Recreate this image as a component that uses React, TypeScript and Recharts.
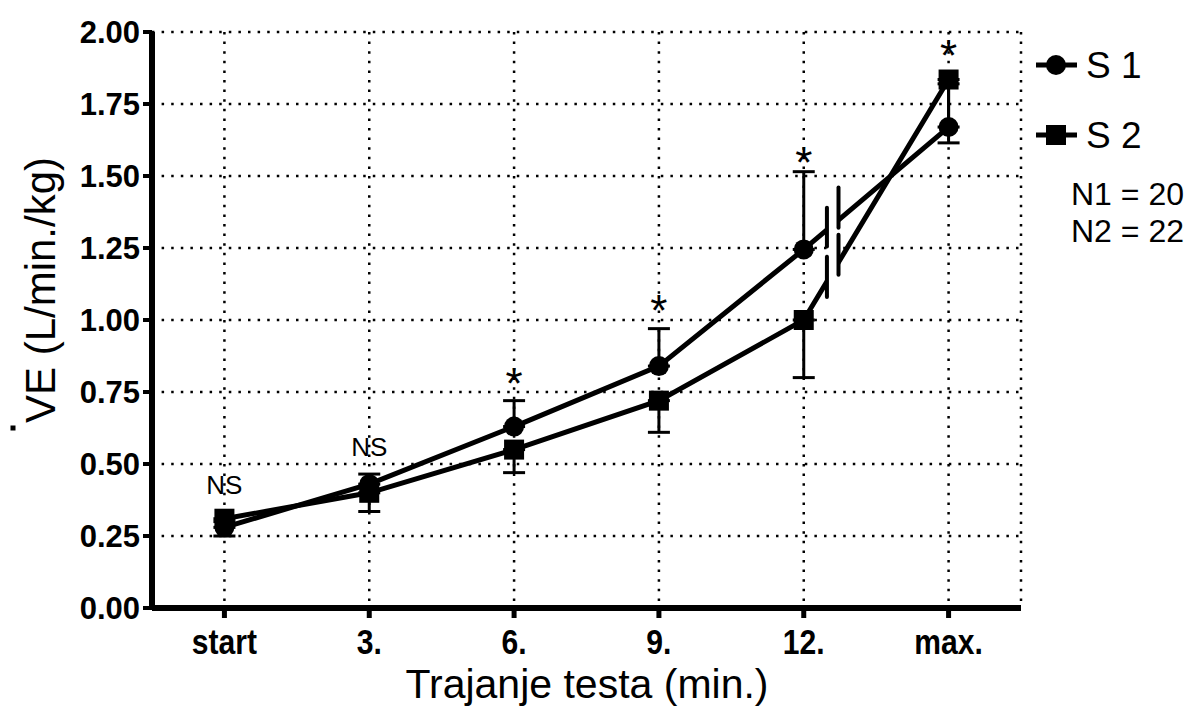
import {
  LineChart,
  Line,
  XAxis,
  YAxis,
  CartesianGrid,
  ErrorBar,
  ReferenceDot,
  ReferenceLine,
  ReferenceArea,
} from "recharts";

const categories = ["start", "3.", "6.", "9.", "12.", "max."];
const s1Values = [0.28, 0.43, 0.63, 0.84, 1.245, 1.67];
const s1ErrUp = [0.02, 0.035, 0.09, 0.13, 0.27, 0.15];
const s2Values = [0.31, 0.4, 0.55, 0.72, 1.0, 1.835];
const s2ErrDown = [0.06, 0.065, 0.08, 0.11, 0.2, 0.22];
const yTicks = [0, 0.25, 0.5, 0.75, 1.0, 1.25, 1.5, 1.75, 2.0];

// significance marks above each time point (text baseline in data units)
const marks = ["NS", "NS", "*", "*", "*", "*"];
const markY = [0.396, 0.528, 0.726, 0.98, 1.494, 1.863];

const FONT = "'Liberation Sans', Arial, Helvetica, sans-serif";

const data = categories.map((c, i) => ({
  x: i,
  s1: s1Values[i],
  s1Err: [0, s1ErrUp[i]],
  s2: s2Values[i],
  s2Err: [s2ErrDown[i], 0],
}));

const SquareDot = (props: any) => {
  const { cx, cy, index } = props;
  if (cx == null || cy == null) return null;
  return <rect key={`sq-${index}`} x={cx - 10} y={cy - 10} width={20} height={20} fill="#000" />;
};

// condensed bold tick labels like the original
const NarrowTick = (props: any) => {
  const { x, y, payload } = props;
  return (
    <g transform={`translate(${x},${y})`}>
      <text
        transform="scale(0.86,1)"
        textAnchor="middle"
        dy="0.71em"
        fontFamily={FONT}
        fontSize={35}
        fontWeight="bold"
        fill="#000"
      >
        {categories[payload.value]}
      </text>
    </g>
  );
};

const MarkText = (label: string) => (props: any) => {
  const { cx, cy } = props;
  return (
    <text
      x={cx}
      y={cy}
      textAnchor="middle"
      fontFamily={FONT}
      fontSize={label === "*" ? 44 : 26}
      fill="#000"
    >
      {label}
    </text>
  );
};

export default function App() {
  return (
    <div style={{ position: "absolute", left: 0, top: 0, width: 1195, height: 709, background: "#fff" }}>
      <LineChart
        width={1195}
        height={709}
        data={data}
        margin={{ top: 32, right: 174, left: 0, bottom: 41 }}
      >
        <CartesianGrid
          stroke="#000"
          strokeWidth={2.5}
          strokeDasharray="2.5 7.1"
        />
        <XAxis
          dataKey="x"
          type="number"
          domain={[-0.5, 5.5]}
          ticks={[0, 1, 2, 3, 4, 5]}
          height={60}
          tickSize={10}
          tickMargin={11}
          axisLine={{ stroke: "#000", strokeWidth: 6 }}
          tickLine={{ stroke: "#000", strokeWidth: 5 }}
          tick={<NarrowTick />}
        />
        <YAxis
          type="number"
          domain={[0, 2]}
          ticks={yTicks}
          tickFormatter={(v: number) => v.toFixed(2)}
          width={152}
          tickSize={9}
          tickMargin={3}
          axisLine={{ stroke: "#000", strokeWidth: 6 }}
          tickLine={{ stroke: "#000", strokeWidth: 4 }}
          tick={{ fill: "#000", fontSize: 31, fontWeight: "bold", fontFamily: FONT }}
        />
        <Line
          dataKey="s1"
          type="linear"
          stroke="#000"
          strokeWidth={5}
          dot={{ r: 10, fill: "#000", stroke: "none" }}
          activeDot={false}
          isAnimationActive={false}
        >
          <ErrorBar dataKey="s1Err" direction="y" width={11} stroke="#000" strokeWidth={3} />
        </Line>
        <Line
          dataKey="s2"
          type="linear"
          stroke="#000"
          strokeWidth={5}
          dot={<SquareDot />}
          activeDot={false}
          isAnimationActive={false}
        >
          <ErrorBar dataKey="s2Err" direction="y" width={11} stroke="#000" strokeWidth={3} />
        </Line>
        {/* axis break between 12. and max. */}
        <ReferenceArea
          x1={4.168}
          x2={4.232}
          y1={1.07}
          y2={1.45}
          fill="#fff"
          fillOpacity={1}
          stroke="none"
          zIndex={1500}
        />
        <ReferenceLine segment={[{ x: 4.16, y: 1.39 }, { x: 4.16, y: 1.255 }]} stroke="#000" strokeWidth={4} strokeLinecap="round" zIndex={1600} />
        <ReferenceLine segment={[{ x: 4.16, y: 1.22 }, { x: 4.16, y: 1.08 }]} stroke="#000" strokeWidth={4} strokeLinecap="round" zIndex={1600} />
        <ReferenceLine segment={[{ x: 4.24, y: 1.46 }, { x: 4.24, y: 1.32 }]} stroke="#000" strokeWidth={4} strokeLinecap="round" zIndex={1600} />
        <ReferenceLine segment={[{ x: 4.24, y: 1.296 }, { x: 4.24, y: 1.157 }]} stroke="#000" strokeWidth={4} strokeLinecap="round" zIndex={1600} />
        {marks.map((m, i) => (
          <ReferenceDot key={i} x={i} y={markY[i]} r={1} shape={MarkText(m)} zIndex={1700} />
        ))}
      </LineChart>

      <svg
        width={1195}
        height={709}
        style={{ position: "absolute", left: 0, top: 0, pointerEvents: "none" }}
      >
        {/* y axis title */}
        <text
          transform="translate(55, 290) rotate(-90)"
          textAnchor="middle"
          fontFamily={FONT}
          fontSize={42}
          fill="#000"
        >
          VE (L/min./kg)
        </text>
        <rect x={10.5} y={425.5} width={5} height={5} fill="#000" />
        {/* x axis title */}
        <text x={587} y={698} textAnchor="middle" fontFamily={FONT} fontSize={41} fill="#000">
          Trajanje testa (min.)
        </text>
        {/* legend */}
        <line x1={1036} y1={65} x2={1077} y2={65} stroke="#000" strokeWidth={5} />
        <circle cx={1056} cy={65} r={10} fill="#000" />
        <text x={1086} y={78} fontFamily={FONT} fontSize={37} fill="#000">S 1</text>
        <line x1={1036} y1={135} x2={1077} y2={135} stroke="#000" strokeWidth={5} />
        <rect x={1046} y={125} width={20} height={20} fill="#000" />
        <text x={1086} y={148} fontFamily={FONT} fontSize={37} fill="#000">S 2</text>
        <text x={1071} y={205} fontFamily={FONT} fontSize={32} fill="#000">N1 = 20</text>
        <text x={1071} y={242} fontFamily={FONT} fontSize={32} fill="#000">N2 = 22</text>
      </svg>
    </div>
  );
}
